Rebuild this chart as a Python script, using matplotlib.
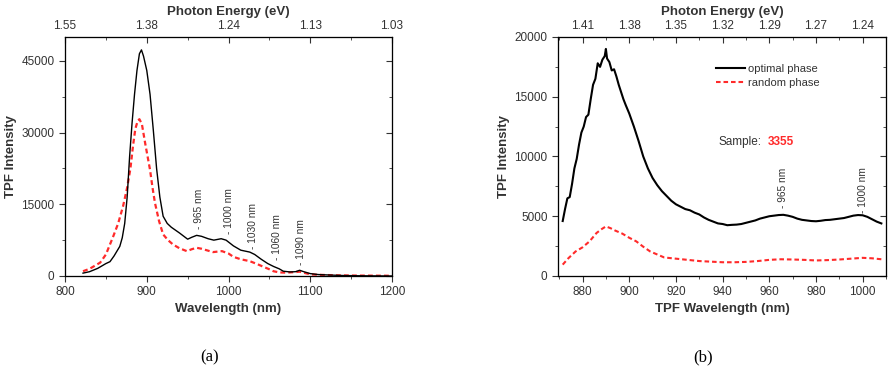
import matplotlib.pyplot as plt

plt.rcParams['font.family'] = ['Liberation Sans', 'DejaVu Sans']

# ---- panel (a) data ----
wl_a_opt = [822, 830, 840, 850, 855, 860, 867, 870, 873, 876, 879, 882, 885, 888, 891, 893.5,
            896, 900, 904, 908, 912, 916, 920, 925, 930, 940, 950, 955, 961, 967, 975, 982,
            991, 997, 1006, 1015, 1026, 1032, 1040, 1048, 1055, 1062, 1067, 1075, 1082, 1087,
            1092, 1100, 1110, 1124, 1140, 1160, 1200]
int_a_opt = [600, 900, 1600, 2600, 3000, 4200, 6200, 8000, 11000, 16500, 25000, 32000, 38000,
             43000, 46500, 47300, 46000, 43000, 38000, 30500, 22500, 16500, 12500, 11000, 10200,
             9000, 7700, 8100, 8500, 8300, 7800, 7500, 7800, 7500, 6300, 5400, 5000, 4500, 3500,
             2600, 2000, 1500, 1000, 850, 900, 1200, 900, 500, 300, 200, 100, 50, 0]
wl_a_rand = [822, 830, 843, 850, 859, 865, 871, 876, 880, 883, 886, 889, 891, 894, 898, 901,
             904, 907, 910, 915, 920, 926, 932, 940, 949, 955, 961, 967, 975, 981, 992, 1000,
             1006, 1015, 1026, 1035, 1043, 1050, 1055, 1062, 1070, 1080, 1087, 1094, 1100, 1110,
             1130, 1150, 1200]
int_a_rand = [1000, 1500, 2800, 4500, 8300, 11000, 14600, 18500, 22500, 27000, 30800, 32500,
              32800, 31800, 27800, 25000, 22200, 18500, 15300, 11500, 8700, 7500, 6600, 5800,
              5200, 5600, 5900, 5700, 5300, 5000, 5200, 4700, 4000, 3500, 3100, 2500, 1900, 1400,
              1000, 750, 700, 800, 900, 600, 350, 250, 150, 100, 50]
peaks_a = [965, 1000, 1030, 1060, 1090]
peak_a_x = [964, 1000, 1030, 1059, 1089]
peak_a_y = [9900, 8700, 5600, 3300, 2200]
xticks_a = [800, 900, 1000, 1100, 1200]
ev_labels_a = ['1.55', '1.38', '1.24', '1.13', '1.03']

# ---- panel (b) data ----
wl_b_opt = [871.5, 872.5, 873.5, 874.5, 875.5, 876.5, 877.5, 878.5, 879.5, 880.5, 881.5, 882.5,
            883.5, 884.5, 885.5, 886.5, 887.5, 888.5, 889.5, 890.0, 890.5, 891.5, 892.5, 893.5,
            894.5, 895.5, 896.5, 897.5, 898.5, 900, 902, 904, 906, 908, 910, 912, 914, 916,
            918, 920, 922, 924, 926, 928, 930, 932, 934, 936, 938, 940, 942, 944, 946, 948,
            950, 952, 954, 956, 958, 960, 962, 964, 966, 968, 970, 972, 974, 976, 978, 980,
            982, 984, 986, 988, 990, 992, 994, 996, 998, 1000, 1002, 1004, 1006, 1008]
int_b_opt = [4600, 5600, 6500, 6600, 7700, 9000, 9800, 11000, 12000, 12500, 13300, 13500,
             14800, 16000, 16500, 17800, 17500, 18100, 18400, 19000, 18200, 17900, 17200, 17300,
             16700, 16000, 15400, 14800, 14300, 13600, 12500, 11300, 10000, 9000, 8200, 7600,
             7100, 6700, 6300, 6000, 5800, 5600, 5500, 5300, 5150, 4900, 4700, 4550, 4400, 4350,
             4250, 4280, 4300, 4350, 4450, 4550, 4650, 4800, 4900, 5000, 5050, 5100, 5120, 5050,
             4950, 4800, 4700, 4650, 4600, 4580, 4620, 4680, 4700, 4750, 4800, 4850, 4950, 5050,
             5100, 5080, 4950, 4750, 4550, 4400]
wl_b_rand = [871.5, 874, 877, 880, 883, 886, 888, 890, 892, 894, 897, 900, 903, 906, 909, 912,
             915, 920, 925, 930, 935, 940, 945, 950, 955, 960, 965, 970, 975, 980, 985, 990,
             995, 1000, 1004, 1008]
int_b_rand = [950, 1500, 2050, 2400, 2900, 3600, 3900, 4150, 4000, 3800, 3550, 3200, 2900, 2450,
              2050, 1800, 1550, 1450, 1350, 1250, 1200, 1150, 1150, 1180, 1250, 1350, 1400, 1380,
              1350, 1300, 1330, 1380, 1450, 1520, 1480, 1400]
peaks_b = [965, 1000]
peak_b_x = [966, 1000]
peak_b_y = [5700, 5300]
xticks_b = [880, 900, 920, 940, 960, 980, 1000]
ev_labels_b = ['1.41', '1.38', '1.35', '1.32', '1.29', '1.27', '1.24']

fig = plt.figure(figsize=(8.92, 3.81), dpi=100)
axA = fig.add_axes([0.0729, 0.2756, 0.3666, 0.6273])
axB = fig.add_axes([0.6256, 0.2756, 0.3677, 0.6273])

red = '#ff2a2a'
grey = '#333333'


def style(ax, xlim, ylim, xticks, xminor, yticks, yminor, labels):
    ax.set_xlim(xlim)
    ax.set_ylim(ylim)
    ax.set_xticks(xticks)
    ax.set_xticks(xminor, minor=True)
    ax.set_yticks(yticks)
    ax.set_yticks(yminor, minor=True)
    ax.tick_params(which='both', direction='out', colors=grey, labelsize=8.5, labelcolor=grey)
    ax.tick_params(which='major', length=4)
    ax.tick_params(which='minor', length=2.5)
    for s in ax.spines.values():
        s.set_color('#555555')
    # right mirror ticks, pointing inward
    right = ax.twinx()
    right.set_ylim(ylim)
    right.set_yticks(yticks)
    right.set_yticks(yminor, minor=True)
    right.set_yticklabels([])
    right.tick_params(which='both', direction='in', colors=grey)
    right.tick_params(which='major', length=4)
    right.tick_params(which='minor', length=2.5)
    # top axis: photon energy
    top = ax.twiny()
    top.set_xlim(xlim)
    top.set_xticks(xticks)
    top.set_xticks(xminor, minor=True)
    top.set_xticklabels(labels)
    top.tick_params(which='both', direction='in', colors=grey, labelsize=8.5, labelcolor=grey)
    top.tick_params(which='major', length=4)
    top.tick_params(which='minor', length=2.5)
    top.set_xlabel('Photon Energy (eV)', fontsize=9.5, fontweight='bold', color=grey, labelpad=4)
    return top


# ---- panel (a) ----
axA.plot(wl_a_rand, int_a_rand, color=red, lw=1.6, ls=(0, (2.2, 1.4)))
axA.plot(wl_a_opt, int_a_opt, color='black', lw=1.0)
style(axA, (800, 1200), (0, 50000), xticks_a, [850, 950, 1050, 1150],
      [0, 15000, 30000, 45000], [7500, 22500, 37500], ev_labels_a)
axA.set_xlabel('Wavelength (nm)', fontsize=9.5, fontweight='bold', color=grey, labelpad=3)
axA.set_ylabel('TPF Intensity', fontsize=9.5, fontweight='bold', color=grey, labelpad=3)
for p, x, y in zip(peaks_a, peak_a_x, peak_a_y):
    axA.text(x, y, '- %d nm' % p, rotation=90, ha='center', va='bottom', fontsize=7.3,
             color=grey)

# ---- panel (b) ----
axB.plot(wl_b_opt, int_b_opt, color='black', lw=1.5, label='optimal phase')
axB.plot(wl_b_rand, int_b_rand, color=red, lw=1.5, ls=(0, (2.2, 1.4)), label='random phase')
style(axB, (869.5, 1010), (0, 20000), xticks_b, [870, 890, 910, 930, 950, 970, 990, 1010],
      [0, 5000, 10000, 15000, 20000], [2500, 7500, 12500, 17500], ev_labels_b)
axB.set_xlabel('TPF Wavelength (nm)', fontsize=9.5, fontweight='bold', color=grey, labelpad=3)
axB.set_ylabel('TPF Intensity', fontsize=9.5, fontweight='bold', color=grey, labelpad=3)
axB.legend(loc='upper left', bbox_to_anchor=(0.45, 0.93), frameon=False, fontsize=8,
           handlelength=2.6, handletextpad=0.3, labelspacing=0.35, labelcolor=grey)
for p, x, y in zip(peaks_b, peak_b_x, peak_b_y):
    axB.text(x, y, '- %d nm' % p, rotation=90, ha='center', va='bottom', fontsize=7.3,
             color=grey)
axB.text(0.49, 0.56, 'Sample:', transform=axB.transAxes, fontsize=8.5, color=grey,
         ha='left', va='center')
axB.text(0.64, 0.56, '3355', transform=axB.transAxes, fontsize=8.5, color=red,
         fontweight='bold', ha='left', va='center')

# captions
fig.text(0.235, 0.063, '(a)', fontsize=12, family=['Liberation Serif', 'DejaVu Serif'],
         ha='center', va='center')
fig.text(0.788, 0.063, '(b)', fontsize=12, family=['Liberation Serif', 'DejaVu Serif'],
         ha='center', va='center')

fig.savefig('out.png', dpi=100)
